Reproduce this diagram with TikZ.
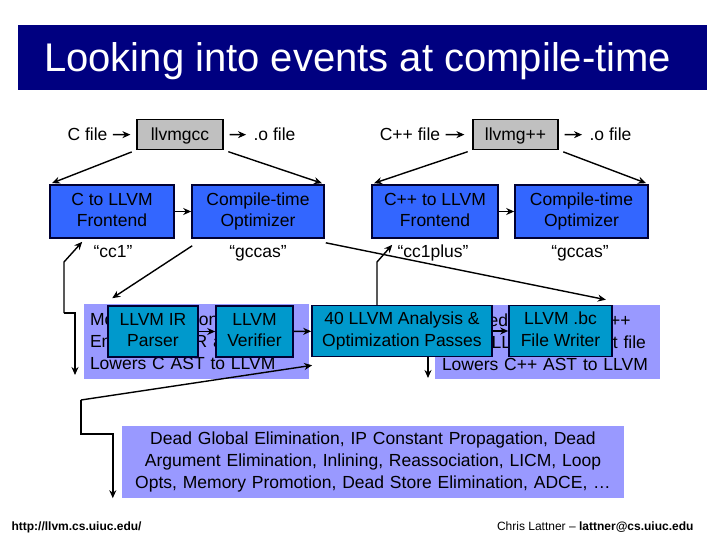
\documentclass[tikz,border=0pt]{standalone}
\usepackage{fontspec}
\setmainfont{Liberation Sans}
\usetikzlibrary{arrows.meta,positioning,calc}

\definecolor{titlenavy}{RGB}{0,0,128}
\definecolor{stageblue}{RGB}{51,102,255}
\definecolor{passteal}{RGB}{0,153,204}
\definecolor{notelilac}{RGB}{153,153,255}
\definecolor{toolgray}{RGB}{192,192,192}
\definecolor{edgenavy}{RGB}{0,0,51}

\begin{document}
\begin{tikzpicture}[
    x=1pt, y=-1pt,
    font=\fontsize{17.5}{21.3}\selectfont,
    tool/.style={rectangle, draw, line width=1.2pt, fill=toolgray, minimum height=30pt, inner sep=0pt, text height=12.5pt, text depth=0pt},
    stage/.style={rectangle, draw=edgenavy, line width=1.6pt, fill=stageblue, align=center, minimum height=53pt, inner sep=0pt, execute at begin node=\rule{0pt}{16pt}, execute at end node=\vphantom{p}},
    pass/.style={rectangle, draw=edgenavy, line width=1.6pt, fill=passteal, align=center, minimum height=51pt, inner sep=0pt, execute at begin node=\rule{0pt}{14pt}, execute at end node=\vphantom{p}},
    note/.style={rectangle, fill=notelilac, inner sep=0pt, font=\fontsize{17.5}{22}\selectfont},
    arrow/.style={-{Stealth[length=8pt,width=7pt]}, line width=1.4pt}
]
\useasboundingbox (0,0) rectangle (720,540);

\node[fill=titlenavy, minimum width=689pt, minimum height=65pt, inner sep=0pt] (titlebar) at (362.5,57.5) {};
\node[anchor=base west, inner sep=0pt, text=white, font=\fontsize{40}{44}\selectfont] (heading) at (44,72) {Looking into events at compile-time};

\node[anchor=base] (cfile) at (87.5,141) {C file};
\node[tool, minimum width=86pt] (llvmgcc) at (180,134.5) {llvmgcc};
\node[anchor=base] (cofile) at (274.5,141) {.o file};
\node[anchor=base] (cppfile) at (410,141) {C++ file};
\node[tool, minimum width=85pt] (llvmgpp) at (515.5,134.5) {llvmg++};
\node[anchor=base] (cppofile) at (610.5,141) {.o file};

\draw[arrow, shorten <=2pt, shorten >=6pt] (cfile) -- (llvmgcc);
\draw[arrow, shorten <=6pt, shorten >=4pt] (llvmgcc) -- (cofile);
\draw[arrow, shorten <=2pt, shorten >=8pt] (cppfile) -- (llvmgpp);
\draw[arrow, shorten <=6pt, shorten >=4pt] (llvmgpp) -- (cppofile);

\node[stage, minimum width=124pt] (cfront) at (112,211.5) {C to LLVM\\Frontend};
\node[stage, minimum width=132pt] (copt) at (258,211.5) {Compile-time\\Optimizer};
\node[stage, minimum width=126pt] (cppfront) at (435,211.5) {C++ to LLVM\\Frontend};
\node[stage, minimum width=133pt] (cppopt) at (581.5,211.5) {Compile-time\\Optimizer};

\node[anchor=base] (ccone) at (113,258) {“cc1”};
\node[anchor=base] (cgccas) at (258,258) {“gccas”};
\node[anchor=base] (cconeplus) at (433,258) {“cc1plus”};
\node[anchor=base] (cppgccas) at (580,258) {“gccas”};

\draw[arrow, shorten <=5pt, shorten >=3pt] (llvmgcc.south west) -- (cfront.north west);
\draw[arrow, shorten <=5pt, shorten >=3pt] (llvmgcc.south east) -- (copt.north east);
\draw[arrow, shorten <=5pt, shorten >=3pt] (llvmgpp.south west) -- (cppfront.north west);
\draw[arrow, shorten <=5pt, shorten >=3pt] (llvmgpp.south east) -- (cppopt.north east);
\draw[arrow] (cfront) -- (copt);
\draw[arrow] (cppfront) -- (cppopt);

\node[note, minimum width=225pt, minimum height=75pt, text width=213pt, align=left] (cnote) at (196.5,341.5) {Modified version of GCC\\Emits LLVM IR as text file\\Lowers C AST to LLVM};
\node[note, minimum width=225pt, minimum height=74pt, text width=211pt, align=left] (cppnote) at (547.5,342) {Modified version of G++\\Emits LLVM IR as text file\\Lowers C++ AST to LLVM};

\coordinate (cjoin) at (64,313);
\coordinate (cbend) at (64,262);
\draw[arrow] (cjoin) -- (cbend) -- ([shift={(33,3)}]cfront.south west);
\draw[arrow] (cjoin) -- ++(11,0) -- ++(0,62);

\coordinate (cppjoin) at (377,305);
\coordinate (cppbend) at (377,262);
\coordinate (cppdrop) at (428,378);
\draw[arrow] (cppjoin) -- (cppbend) -- ([shift={(21,6)}]cppfront.south west);
\draw[arrow] ([yshift=-5pt]cppjoin) -| (cppdrop);

\node[pass, minimum width=90pt] (parser) at (153,331.5) {LLVM IR\\Parser};
\node[pass, minimum width=77pt] (verifier) at (254.5,331.5) {LLVM\\Verifier};
\node[pass, minimum width=180pt] (passes) at (402,331) {40 LLVM Analysis \&\\Optimization Passes};
\node[pass, minimum width=103pt] (writer) at (560.5,331) {LLVM .bc\\File Writer};

\draw[arrow] (parser) -- (verifier);
\draw[arrow] (verifier) -- (passes);
\draw[arrow] (passes) -- (writer);
\draw[arrow] ([shift={(1,7)}]copt.south west) -- ([shift={(5,-7)}]parser.north west);
\draw[arrow] ([shift={(1,4)}]copt.south east) -- ([shift={(-7,-5)}]writer.north east);

\node[note, minimum width=502pt, minimum height=72pt, text width=495pt, align=center] (optlist) at (373,462) {Dead Global Elimination, IP Constant Propagation, Dead\\Argument Elimination, Inlining, Reassociation, LICM, Loop\\Opts, Memory Promotion, Dead Store Elimination, ADCE, …};

\coordinate (optjoin) at (81,400);
\coordinate (optbend) at ([shift={(-9,8)}]optlist.north west);
\draw[arrow] (optjoin) -- ([shift={(1,8)}]passes.south west);
\draw[arrow] (optjoin) |- (optbend) -- (optbend |- optlist.south);

\node[anchor=west, font=\fontsize{12}{14}\selectfont\bfseries] (url) at (8,527) {http://llvm.cs.uiuc.edu/};
\node[anchor=east, font=\fontsize{12}{14}\selectfont] (author) at (697,527) {Chris Lattner -- \textbf{lattner@cs.uiuc.edu}};
\end{tikzpicture}
\end{document}
